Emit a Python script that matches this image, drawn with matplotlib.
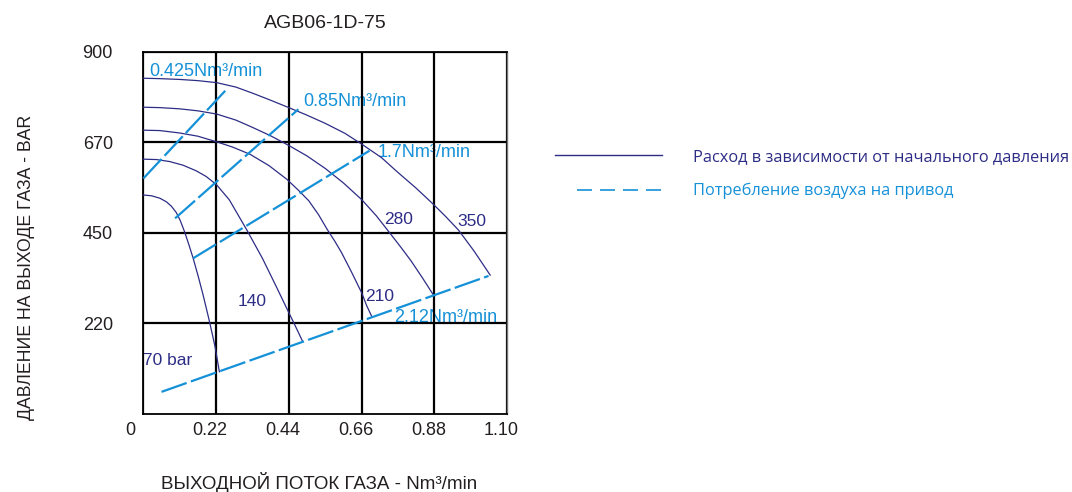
import matplotlib
matplotlib.use("Agg")
import matplotlib.pyplot as plt
from matplotlib.lines import Line2D
from matplotlib.transforms import ScaledTranslation

plt.rcParams['font.family'] = ['Liberation Sans', 'DejaVu Sans']

NAVY = '#2e2d86'
BLUE = '#1591d8'

# outlet flow vs outlet pressure, one curve per inlet pressure (bar)
x_70 = [0, 0.025, 0.05, 0.07, 0.085, 0.10, 0.112, 0.125, 0.138, 0.151, 0.166, 0.181, 0.20, 0.217, 0.230]
y_70 = [544, 542, 536, 527, 516, 500, 480, 452, 420, 386, 342, 295, 230, 167, 105]
x_140 = [0, 0.04, 0.08, 0.12, 0.16, 0.19, 0.222, 0.26, 0.311, 0.36, 0.40, 0.434, 0.46, 0.482]
y_140 = [633, 632, 627, 618, 604, 590, 569, 532, 460, 387, 320, 262, 218, 180]
x_210 = [0, 0.05, 0.11, 0.165, 0.222, 0.27, 0.323, 0.38, 0.434, 0.47, 0.50, 0.53,
         0.555, 0.58, 0.60, 0.63, 0.661, 0.675, 0.691]
y_210 = [705, 704, 698, 690, 676, 663, 645, 617, 583, 555, 530, 495,
         460, 428, 400, 352, 300, 270, 242]
x_280 = [0, 0.05, 0.11, 0.165, 0.222, 0.28, 0.33, 0.385, 0.44, 0.495, 0.55, 0.605,
         0.661, 0.705, 0.746, 0.78, 0.81, 0.845, 0.877]
y_280 = [762, 761, 758, 753, 745, 730, 712, 691, 667, 641, 610, 574,
         532, 492, 449, 413, 380, 337, 296]
x_350 = [0, 0.05, 0.11, 0.165, 0.222, 0.28, 0.33, 0.38, 0.434, 0.49, 0.55, 0.61,
         0.661, 0.72, 0.77, 0.825, 0.877, 0.915, 0.953, 1.0, 1.049]
y_350 = [834, 833, 831, 828, 823, 812, 797, 781, 763, 744, 722, 697,
         670, 637, 600, 561, 521, 490, 457, 405, 345]

curve_x = [x_70, x_140, x_210, x_280, x_350]
curve_y = [y_70, y_140, y_210, y_280, y_350]
curve_labels = ['70 bar', '140', '210', '280', '350']
curve_label_x = [0.0, 0.328, 0.714, 0.771, 0.993]
curve_label_y = [134, 279, 291, 482, 478]

# drive air consumption lines
air_x = [[0, 0.257], [0.096, 0.469], [0.151, 0.684], [0.055, 1.044]]
air_y = [[585, 811], [486, 757], [387, 654], [55, 343]]
air_labels = ['0.425Nm³/min', '0.85Nm³/min', '1.7Nm³/min', '2.12Nm³/min']
air_label_x = [0.018, 0.484, 0.709, 0.759]
air_label_y = [850, 776, 650, 240]

x_ticks = [0, 0.22, 0.44, 0.66, 0.88, 1.10]
x_ticklabels = ['0', '0.22', '0.44', '0.66', '0.88', '1.10']
y_ticks = [225, 450, 675, 900]
y_ticklabels = ['220', '450', '670', '900']

fig = plt.figure(figsize=(10.72, 4.92), dpi=100)
ax = fig.add_axes([0.1337, 0.1585, 0.3393, 0.7365])

ax.set_xlim(0, 1.1)
ax.set_ylim(0, 900)
ax.set_xticks(x_ticks)
ax.set_xticklabels(x_ticklabels)
ax.set_yticks(y_ticks)
ax.set_yticklabels(y_ticklabels)
ax.tick_params(axis='both', length=0, labelsize=13, labelcolor='#231f20')
ax.tick_params(axis='x', pad=6)
ax.tick_params(axis='y', pad=22)
ax.grid(True, color='black', linewidth=1.6, zorder=1)
ax.set_axisbelow(True)
for s in ['left', 'bottom', 'top']:
    ax.spines[s].set_linewidth(1.3)
ax.spines['right'].set_color('#777777')
ax.spines['right'].set_linewidth(1.0)

# x tick labels sit a little to the left of their grid lines
for i, lab in enumerate(ax.get_xticklabels()):
    dx = -13 if i == 0 else -6
    lab.set_transform(lab.get_transform() + ScaledTranslation(dx / 100, 0, fig.dpi_scale_trans))

for xs, ys in zip(curve_x, curve_y):
    ax.plot(xs, ys, color=NAVY, linewidth=0.9, zorder=3)
for lab, lx, ly in zip(curve_labels, curve_label_x, curve_label_y):
    ha = 'left' if lab == '70 bar' else 'center'
    ax.text(lx, ly, lab, color=NAVY, fontsize=12.5, ha=ha, va='center', zorder=4)

for xs, ys in zip(air_x, air_y):
    ax.plot(xs, ys, color=BLUE, linewidth=1.6, dashes=(12, 2), zorder=3)
for lab, lx, ly in zip(air_labels, air_label_x, air_label_y):
    ax.text(lx, ly, lab, color=BLUE, fontsize=13, ha='left', va='center', zorder=0.5)

ax.set_title('AGB06-1D-75', fontsize=14, color='#231f20', pad=17)
ax.set_ylabel('ДАВЛЕНИЕ НА ВЫХОДЕ ГАЗА - BAR', fontsize=12.7, color='#231f20')
ax.yaxis.set_label_coords(-0.297, 0.405)
ax.set_xlabel('ВЫХОДНОЙ ПОТОК ГАЗА - Nm³/min', fontsize=13.5, color='#231f20')
ax.xaxis.set_label_coords(0.483, -0.16)

handles = [Line2D([], [], color=NAVY, linewidth=1.0),
           Line2D([], [], color=BLUE, linewidth=1.2,
                  linestyle=(57.2, (9, 4.8, 9, 4.8, 9, 4.8, 9, 20)))]
leg = fig.legend(handles, ['Расход в зависимости от начального давления',
                           'Потребление воздуха на привод'],
                 loc='center left', bbox_to_anchor=(0.5177, 0.646),
                 frameon=False, handlelength=6.5, handletextpad=1.9,
                 labelspacing=1.1, borderpad=0, borderaxespad=0,
                 prop={'family': ['Open Sans', 'DejaVu Sans'], 'size': 11.8})
for t, c in zip(leg.get_texts(), [NAVY, BLUE]):
    t.set_color(c)

fig.savefig('out.png', dpi=100)
